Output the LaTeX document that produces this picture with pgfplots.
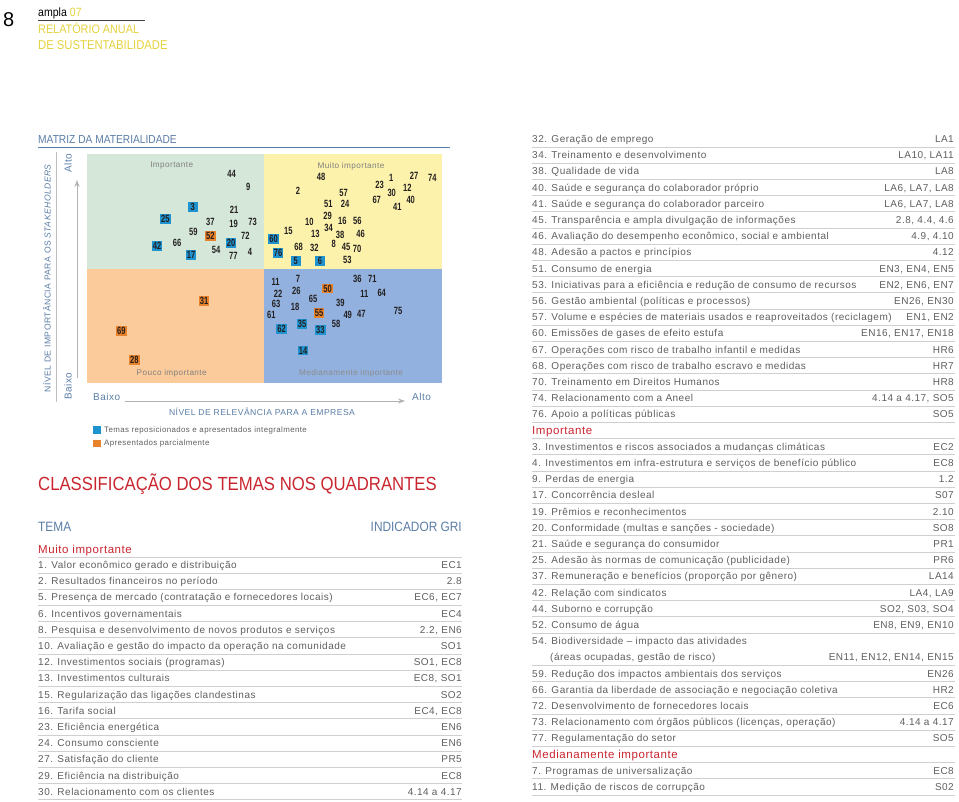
\documentclass[border=0pt]{standalone}
\usepackage{pgfplots}
\pgfplotsset{compat=1.18}
\usepackage{pgfplotstable}
\usepackage{fontspec}
\setmainfont{Liberation Sans}[LetterSpace=5]
\newfontfamily\condfont{Liberation Sans}[FakeStretch=0.88]
\newfontfamily\numfont{Liberation Sans}[FakeStretch=0.72]
\usetikzlibrary{arrows.meta}
\definecolor{txtgray}{HTML}{5E5E5E}
\definecolor{hred}{HTML}{C9252F}
\definecolor{bluegray}{HTML}{5A7DA6}
\definecolor{ylw}{HTML}{E3D23F}
\definecolor{qgreen}{HTML}{D4E7D9}
\definecolor{qyellow}{HTML}{FCF2AC}
\definecolor{qpeach}{HTML}{FBCB9B}
\definecolor{qblue}{HTML}{92B1DE}
\definecolor{boxblue}{HTML}{1F93CF}
\definecolor{boxorange}{HTML}{E8822B}
\definecolor{rulegray}{HTML}{CFCFCF}
\definecolor{numdark}{HTML}{231F20}

\pgfplotstableread{
x y lab
231.7 174 44
248.3 187.3 9
234 209.7 21
210.3 222.3 37
233.7 223.7 19
252.7 221.7 73
193.3 232.3 59
245.3 236.3 72
177 242.7 66
216 250.3 54
233.3 255.7 77
250 252.3 4
321 177.3 48
298 191 2
343.7 192.7 57
328.3 204.3 51
345 204.3 24
379.7 184.7 23
391.3 178 1
414 175.7 27
432.3 178.3 74
407.3 187.7 12
391.7 193.3 30
410.7 199.7 40
376.7 200.3 67
397.3 207 41
327.7 215.7 29
309.3 221.7 10
342.3 220.7 16
357.3 221 56
328.7 227.7 34
288.3 230.7 15
315.3 234.3 13
340 234.7 38
360.7 234.3 46
298.7 246.7 68
314.3 247.7 32
333.7 243.7 8
346 247.3 45
357 248.7 70
347.3 260.3 53
275.7 281.7 11
298 279 7
357.3 279 36
372.3 279.3 71
278 294.3 22
296.3 291.3 26
364.3 294.3 11
381.7 293.3 64
313 299.3 65
340.3 302.7 39
276 304 63
295 307.3 18
347.7 315.3 49
361.3 314 47
398 310.7 75
271.3 315.3 61
336 323.7 58
}\plainpts

\pgfplotstableread{
x y lab
192.7 206.7 3
165.3 219 25
231 243 20
157 245.7 42
191 255 17
273.7 238.7 60
278 253 76
295.7 260.7 5
320 261 6
302 323.7 35
281.7 329 62
320.3 329.7 33
303 350.3 14
}\bluepts

\pgfplotstableread{
x y lab
210.3 236 52
327.7 288.3 50
319 312.7 55
204 301 31
121.3 330.7 69
134.3 360 28
}\orangepts

\tikzset{
  txt/.style={font=\fontsize{10}{11}\selectfont, text=txtgray, inner sep=0pt},
  rl/.style={draw=rulegray, line width=0.6pt},
  hd/.style={font=\fontsize{11.5}{13}\selectfont, text=hred, inner sep=0pt},
  num/.style={font=\numfont\bfseries\fontsize{10.5}{10.5}\selectfont, text=numdark},
}
\newcommand{\rowL}[3]{%
  \node[txt,anchor=base west] at (38,#1+3.5) {#2};
  \node[txt,anchor=base east] at (462,#1+3.5) {#3};
  \draw[rl] (38,#1+7.8) -- (462,#1+7.8);}
\newcommand{\rowR}[3]{%
  \node[txt,anchor=base west] at (532,#1+3.5) {#2};
  \node[txt,anchor=base east] at (954,#1+3.5) {#3};
  \draw[rl] (532,#1+7.8) -- (955,#1+7.8);}
\newcommand{\hdL}[2]{%
  \node[hd,anchor=base west] at (38,#1+4) {#2};
  \draw[rl] (38,#1+7.8) -- (462,#1+7.8);}
\newcommand{\hdR}[2]{%
  \node[hd,anchor=base west] at (532,#1+4) {#2};
  \draw[rl] (532,#1+7.8) -- (955,#1+7.8);}

\begin{document}
\begin{tikzpicture}
\begin{scope}[x=1pt,y=-1pt]
\useasboundingbox (0,0) rectangle (959,801);
\end{scope}
\begin{axis}[
  at={(0,0)}, anchor=north west,
  scale only axis, width=959pt, height=801pt,
  xmin=0, xmax=959, ymin=0, ymax=801, y dir=reverse,
  hide axis, clip=false,
]
% quadrants
\addplot[fill=qgreen, draw=none] coordinates {(87,154) (264,154) (264,269) (87,269)};
\addplot[fill=qyellow, draw=none] coordinates {(264,154) (442,154) (442,269) (264,269)};
\addplot[fill=qpeach, draw=none] coordinates {(87,269) (264,269) (264,383) (87,383)};
\addplot[fill=qblue, draw=none] coordinates {(264,269) (442,269) (442,383) (264,383)};
% labels
\addplot[draw=none, mark=none, nodes near coords, point meta=explicit symbolic,
  every node near coord/.append style={anchor=center, inner sep=0pt, num}]
  table[x=x, y=y, meta=lab] {\plainpts};
\addplot[draw=none, mark=none, nodes near coords, point meta=explicit symbolic,
  every node near coord/.append style={anchor=center, fill=boxblue, inner xsep=1.2pt, inner ysep=1pt,
    text height=7.6pt, text depth=0pt, minimum width=10pt, num}]
  table[x=x, y=y, meta=lab] {\bluepts};
\addplot[draw=none, mark=none, nodes near coords, point meta=explicit symbolic,
  every node near coord/.append style={anchor=center, fill=boxorange, inner xsep=1.2pt, inner ysep=1pt,
    text height=7.6pt, text depth=0pt, minimum width=10pt, num}]
  table[x=x, y=y, meta=lab] {\orangepts};
\end{axis}

\begin{scope}[x=1pt,y=-1pt]
% header
\node[anchor=base west, inner sep=0pt, font=\fontsize{20}{20}\selectfont] at (3,26) {8};
\node[anchor=base west, inner sep=0pt, font=\condfont\fontsize{12}{12}\selectfont] at (38,16) {ampla \textcolor{ylw}{07}};
\draw[black!75, line width=0.6pt] (38,20) -- (145,20);
\node[anchor=base west, inner sep=0pt, font=\condfont\fontsize{12.3}{12}\selectfont, text=ylw] at (38,33) {RELATÓRIO ANUAL};
\node[anchor=base west, inner sep=0pt, font=\condfont\fontsize{12.8}{12}\selectfont, text=ylw] at (38,49) {DE SUSTENTABILIDADE};

% matrix title
\node[anchor=base west, inner sep=0pt, font=\condfont\fontsize{11.6}{11}\selectfont, text=bluegray] at (38,143.3) {MATRIZ DA MATERIALIDADE};
\draw[bluegray, line width=0.7pt] (38,147) -- (450,147);

% quadrant names
\node[font=\fontsize{8.2}{9}\selectfont, text=black!50] at (171.7,166) {Importante};
\node[font=\fontsize{8.2}{9}\selectfont, text=black!50] at (351,166) {Muito importante};
\node[font=\fontsize{8.2}{9}\selectfont, text=black!50] at (171.7,373.7) {Pouco importante};
\node[font=\fontsize{8.2}{9}\selectfont, text=black!45] at (351,373.7) {Medianamente importante};

% axes decorations
\draw[black!25, line width=0.5pt] (56,152) -- (56,402);
\node[rotate=90, font=\fontsize{8.6}{9}\selectfont, text=bluegray] at (47,278) {NÍVEL DE IMPORTÂNCIA PARA OS \textit{STAKEHOLDERS}};
\node[rotate=90, font=\fontsize{10}{10}\selectfont, text=bluegray] at (68,163) {Alto};
\node[rotate=90, font=\fontsize{10}{10}\selectfont, text=bluegray] at (68,386) {Baixo};
\draw[black!30, line width=0.8pt, -{Stealth[length=7pt,width=5pt]}] (77,378) -- (77,180);
\node[anchor=west, inner sep=0pt, font=\fontsize{10}{10}\selectfont, text=bluegray] at (93,397.3) {Baixo};
\node[anchor=west, inner sep=0pt, font=\fontsize{10}{10}\selectfont, text=bluegray] at (412,397.3) {Alto};
\draw[black!30, line width=0.8pt, -{Stealth[length=7pt,width=5pt]}] (125,401) -- (405,401);
\node[font=\fontsize{8.6}{9}\selectfont, text=bluegray] at (262,412) {NÍVEL DE RELEVÂNCIA PARA A EMPRESA};

% legend
\fill[boxblue] (93,426) rectangle (100.5,433.5);
\fill[boxorange] (93,439.5) rectangle (100.5,447);
\node[anchor=west, inner sep=0pt, font=\fontsize{7.9}{9}\selectfont, text=txtgray] at (104,430) {Temas reposicionados e apresentados integralmente};
\node[anchor=west, inner sep=0pt, font=\fontsize{7.9}{9}\selectfont, text=txtgray] at (104,443.5) {Apresentados parcialmente};

% classification title
\node[anchor=base west, inner sep=0pt, font=\condfont\fontsize{19}{19}\selectfont, text=hred] at (38,490) {CLASSIFICAÇÃO DOS TEMAS NOS QUADRANTES};
\node[anchor=base west, inner sep=0pt, font=\condfont\fontsize{13.5}{13}\selectfont, text=bluegray] at (38,531) {TEMA};
\node[anchor=base east, inner sep=0pt, font=\condfont\fontsize{13.5}{13}\selectfont, text=bluegray] at (462,531) {INDICADOR GRI};

% left column
\hdL{549}{Muito importante}
\rowL{565}{1. Valor econômico gerado e distribuição}{EC1}
\rowL{581.2}{2. Resultados financeiros no período}{2.8}
\rowL{597.4}{5. Presença de mercado (contratação e fornecedores locais)}{EC6, EC7}
\rowL{613.6}{6. Incentivos governamentais}{EC4}
\rowL{629.8}{8. Pesquisa e desenvolvimento de novos produtos e serviços}{2.2, EN6}
\rowL{646}{10. Avaliação e gestão do impacto da operação na comunidade}{SO1}
\rowL{662.2}{12. Investimentos sociais (programas)}{SO1, EC8}
\rowL{678.4}{13. Investimentos culturais}{EC8, SO1}
\rowL{694.6}{15. Regularização das ligações clandestinas}{SO2}
\rowL{710.8}{16. Tarifa social}{EC4, EC8}
\rowL{727}{23. Eficiência energética}{EN6}
\rowL{743.2}{24. Consumo consciente}{EN6}
\rowL{759.4}{27. Satisfação do cliente}{PR5}
\rowL{775.6}{29. Eficiência na distribuição}{EC8}
\rowL{791.8}{30. Relacionamento com os clientes}{4.14 a 4.17}

% right column
\rowR{139}{32. Geração de emprego}{LA1}
\rowR{155.2}{34. Treinamento e desenvolvimento}{LA10, LA11}
\rowR{171.4}{38. Qualidade de vida}{LA8}
\rowR{187.6}{40. Saúde e segurança do colaborador próprio}{LA6, LA7, LA8}
\rowR{203.8}{41. Saúde e segurança do colaborador parceiro}{LA6, LA7, LA8}
\rowR{220}{45. Transparência e ampla divulgação de informações}{2.8, 4.4, 4.6}
\rowR{236.2}{46. Avaliação do desempenho econômico, social e ambiental}{4.9, 4.10}
\rowR{252.4}{48. Adesão a pactos e princípios}{4.12}
\rowR{268.6}{51. Consumo de energia}{EN3, EN4, EN5}
\rowR{284.8}{53. Iniciativas para a eficiência e redução de consumo de recursos}{EN2, EN6, EN7}
\rowR{301}{56. Gestão ambiental (políticas e processos)}{EN26, EN30}
\rowR{317.2}{57. Volume e espécies de materiais usados e reaproveitados (reciclagem)}{EN1, EN2}
\rowR{333.4}{60. Emissões de gases de efeito estufa}{EN16, EN17, EN18}
\rowR{349.6}{67. Operações com risco de trabalho infantil e medidas}{HR6}
\rowR{365.8}{68. Operações com risco de trabalho escravo e medidas}{HR7}
\rowR{382}{70. Treinamento em Direitos Humanos}{HR8}
\rowR{398.2}{74. Relacionamento com a Aneel}{4.14 a 4.17, SO5}
\rowR{414.4}{76. Apoio a políticas públicas}{SO5}
\hdR{430.6}{Importante}
\rowR{446.8}{3. Investimentos e riscos associados a mudanças climáticas}{EC2}
\rowR{463}{4. Investimentos em infra-estrutura e serviços de benefício público}{EC8}
\rowR{479.2}{9. Perdas de energia}{1.2}
\rowR{495.4}{17. Concorrência desleal}{S07}
\rowR{511.6}{19. Prêmios e reconhecimentos}{2.10}
\rowR{527.8}{20. Conformidade (multas e sanções - sociedade)}{SO8}
\rowR{544}{21. Saúde e segurança do consumidor}{PR1}
\rowR{560.2}{25. Adesão às normas de comunicação (publicidade)}{PR6}
\rowR{576.4}{37. Remuneração e benefícios (proporção por gênero)}{LA14}
\rowR{592.6}{42. Relação com sindicatos}{LA4, LA9}
\rowR{608.8}{44. Suborno e corrupção}{SO2, S03, SO4}
\rowR{625}{52. Consumo de água}{EN8, EN9, EN10}
\node[txt,anchor=base west] at (532,641.2+3.5) {54. Biodiversidade -- impacto das atividades};
\rowR{657.4}{\hspace*{18pt}(áreas ocupadas, gestão de risco)}{EN11, EN12, EN14, EN15}
\rowR{673.6}{59. Redução dos impactos ambientais dos serviços}{EN26}
\rowR{689.8}{66. Garantia da liberdade de associação e negociação coletiva}{HR2}
\rowR{706}{72. Desenvolvimento de fornecedores locais}{EC6}
\rowR{722.2}{73. Relacionamento com órgãos públicos (licenças, operação)}{4.14 a 4.17}
\rowR{738.4}{77. Regulamentação do setor}{SO5}
\hdR{754.6}{Medianamente importante}
\rowR{770.8}{7. Programas de universalização}{EC8}
\rowR{787}{11. Medição de riscos de corrupção}{S02}
\end{scope}
\end{tikzpicture}
\end{document}
